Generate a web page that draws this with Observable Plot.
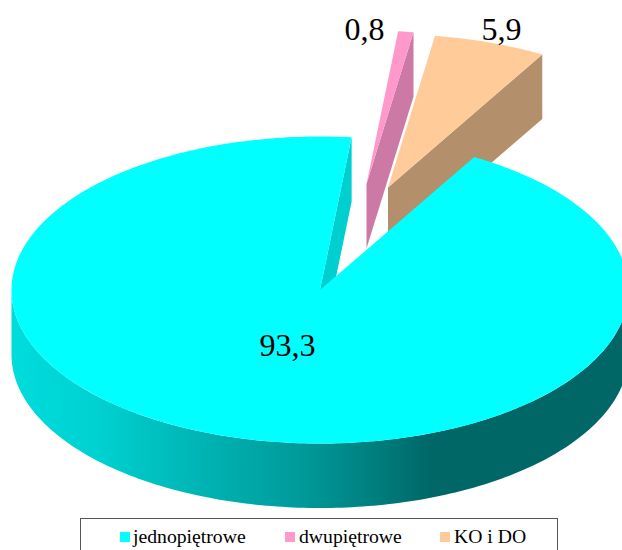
<!DOCTYPE html>
<html lang="pl">
<head>
<meta charset="utf-8">
<script src="https://cdn.jsdelivr.net/npm/d3@7"></script>
<script src="https://cdn.jsdelivr.net/npm/@observablehq/plot@0.6"></script>
<style>
html,body{margin:0;padding:0;background:#fff;overflow:hidden;height:550px;width:622px}
#legend{position:absolute;left:80px;top:518px;width:476px;height:50px;border:1px solid #555;box-sizing:content-box;font:19.7px "Liberation Serif",serif;color:#000}
#legend span{position:absolute;white-space:nowrap;top:5.5px;line-height:22px}
#legend i{position:absolute;top:13px;width:10px;height:10px}
</style>
</head>
<body>
<div id="chart"></div>
<div id="legend"></div>
<script>
// data
const categories = ["jednopiętrowe", "dwupiętrowe", "KO i DO"];
const values = [93.3, 0.8, 5.9];
const valueLabels = ["93,3", "0,8", "5,9"];
const topColors = ["#00ffff", "#ff99cc", "#ffcc99"];
const wallColors = ["#00cfcf", "#cc79a6", "#b38f6b"];

// layout (pixels of the picture, converted to pie units for the scales)
const W = 622, H = 518;
const cx = 319.5, cy = 289.5, rx = 308.5, ry = 153.5, depthPx = 64.5;
const startDeg = 30;
const explodePx = [[0, 0], [46.5, -106], [68, -102.5]];
const labelPx = [[287, 355.5], [364, 39.5], [501, 39.5]];
const legendX = [[39, 52], [204, 218], [359, 373]];

const depth = depthPx / ry;
const rad = d => d * Math.PI / 180;
const total = d3.sum(values);
let acc = startDeg;
const slices = values.map((v, i) => {
  const a0 = acc, a1 = acc + v / total * 360;
  acc = a1;
  return {i, a0, a1, dx: explodePx[i][0] / rx, dy: -explodePx[i][1] / ry};
});
const pt = (s, deg, z = 0, r = 1) => ({
  x: s.dx + r * Math.sin(rad(deg)),
  y: s.dy + r * Math.cos(rad(deg)) - z
});
const arc = (s, a0, a1, z = 0) => {
  const n = Math.max(2, Math.ceil(Math.abs(a1 - a0)));
  return d3.range(n + 1).map(k => pt(s, a0 + (a1 - a0) * k / n, z));
};
const topFace = s => [pt(s, 0, 0, 0), ...arc(s, s.a0, s.a1)];
const wall = (s, deg) => [pt(s, 0, 0, 0), pt(s, deg), pt(s, deg, depth), pt(s, 0, depth, 0)];
const outerSide = s => [...arc(s, 90, 270), ...arc(s, 270, 90, depth)];

const poly = (pts, fill) => Plot.line(pts, {x: "x", y: "y", fill, stroke: "none"});
const [main, pink, orange] = slices;

const gradStops = [[11,"#00dcdc"],[100,"#00d0d0"],[200,"#00b4b4"],[300,"#009a9a"],[380,"#007c7c"],[432,"#006666"],[624,"#006666"]];
const gradientDefs = () => {
  const defs = d3.create("svg:defs");
  const g = defs.append("linearGradient").attr("id", "sideGrad")
    .attr("gradientUnits", "userSpaceOnUse")
    .attr("x1", 11).attr("x2", 624).attr("y1", 0).attr("y2", 0);
  gradStops.forEach(([p, c]) => g.append("stop").attr("offset", (p - 11) / 613).attr("stop-color", c));
  return defs.node();
};

const labelData = categories.map((c, i) => ({
  text: valueLabels[i],
  x: (labelPx[i][0] - cx) / rx,
  y: (cy - labelPx[i][1]) / ry
}));

const chart = Plot.plot({
  width: W, height: H,
  margin: 0,
  x: {domain: [-cx / rx, (W - cx) / rx], range: [0, W], axis: null},
  y: {domain: [cy / ry, (cy - H) / ry], range: [0, H], axis: null},
  style: {background: "#fff"},
  marks: [
    gradientDefs,
    poly(wall(pink, pink.a1), wallColors[1]),
    poly(topFace(pink), topColors[1]),
    poly(wall(orange, orange.a1), wallColors[2]),
    poly(topFace(orange), topColors[2]),
    poly(wall(main, main.a1), wallColors[0]),
    poly(outerSide(main), "url(#sideGrad)"),
    poly(topFace(main), topColors[0]),
    Plot.text(labelData, {x: "x", y: "y", text: "text", fontSize: 32, fontFamily: "Liberation Serif", fill: "#000", lineAnchor: "bottom"})
  ]
});
document.getElementById("chart").append(chart);

const legend = d3.select("#legend");
categories.forEach((c, i) => {
  legend.append("i").style("left", legendX[i][0] + "px").style("background", topColors[i]);
  legend.append("span").style("left", legendX[i][1] + "px").text(c);
});
</script>
</body>
</html>
